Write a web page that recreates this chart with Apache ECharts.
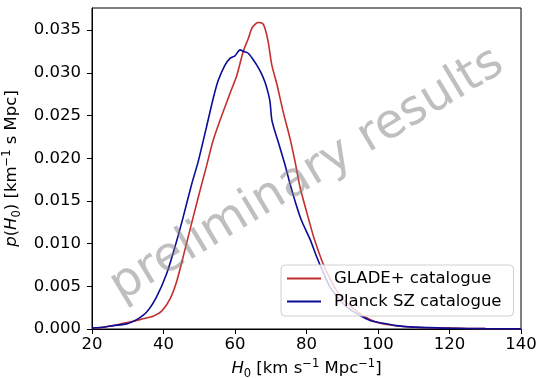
<!DOCTYPE html>
<html>
<head>
<meta charset="utf-8">
<script src="https://cdn.jsdelivr.net/npm/echarts@6/dist/echarts.min.js"></script>
<style>
  html, body { margin: 0; padding: 0; background: #fff; }
  #chart { width: 536px; height: 378px; }
</style>
</head>
<body>
<div id="chart"></div>
<script>
// H0 posterior, GLADE+ catalogue
const gladeH0 = [20, 23, 26, 29, 31.6, 34.3, 37.1, 39.5, 41.8, 43.7, 46, 48.3, 50.7, 52.1, 53.9, 56.3, 58.6, 60.5,
  62.3, 63.7, 64.7, 65.9, 66.5, 67.7, 68.4, 69.3, 70.3, 71.7, 73.5, 75.4, 76.8, 78.2, 80.7, 82.2, 84.3, 86.2,
  88.4, 90.5, 93.1, 96, 99.6, 103, 107, 112, 120, 130, 140]
const gladeP = [0.00005, 0.0002, 0.0004, 0.0007, 0.0009, 0.0012, 0.0015, 0.0021, 0.0035, 0.0056, 0.0093, 0.0131,
  0.0170, 0.0192, 0.0221, 0.0250, 0.0276, 0.0297, 0.0325, 0.0340, 0.0352, 0.0358, 0.0359, 0.0358, 0.0352, 0.0336,
  0.0309, 0.0287, 0.0254, 0.0223, 0.0196, 0.0166, 0.0127, 0.0105, 0.0080, 0.0062, 0.0045, 0.0033, 0.0024, 0.0015,
  0.0008, 0.0005, 0.0003, 0.00018, 0.0001, 0.00004, 0.00002]

// H0 posterior, Planck SZ catalogue
const planckH0 = [20, 23, 26, 29.7, 32.5, 35.3, 38.1, 40.9, 43.2, 45.5, 47.9, 49.7, 52.1, 53.9, 55.3, 57.2, 58.6,
  60, 61.4, 62.5, 63.7, 65, 66.1, 67.3, 68.4, 69.3, 69.8, 70.3, 71.2, 72.1, 74, 75.4, 77, 78.6, 81, 82.9, 84.7,
  86.6, 88.9, 91.2, 94.5, 97.8, 101, 105.2, 110, 120, 130, 140]
const planckP = [0.0001, 0.0002, 0.0004, 0.0006, 0.0011, 0.0020, 0.0038, 0.0065, 0.0096, 0.0131, 0.0170, 0.0196,
  0.0238, 0.0270, 0.0291, 0.0309, 0.0317, 0.0320, 0.0327, 0.0325, 0.0323, 0.0316, 0.0309, 0.0300, 0.0289, 0.0276,
  0.0266, 0.0245, 0.0231, 0.0219, 0.0192, 0.0170, 0.0147, 0.0127, 0.0105, 0.0084, 0.0066, 0.0049, 0.0036, 0.0026,
  0.0017, 0.0010, 0.0007, 0.0004, 0.00022, 0.0001, 0.00004, 0.00002]

const xTicks = [20, 40, 60, 80, 100, 120, 140]
const yTicks = [0, 0.005, 0.01, 0.015, 0.02, 0.025, 0.03, 0.035]

const zip = (xs, ys) => xs.map((x, i) => [x, ys[i]])

const font = 'DejaVu Sans'
const fs = 16.5
const red = '#c42f2f'
const blue = '#0c0c96'

const nameRich = {
  i: { fontFamily: font, fontSize: fs, fontStyle: 'italic', color: '#000' },
  sub: { fontFamily: font, fontSize: 11.5, color: '#000', verticalAlign: 'bottom', lineHeight: 14 },
  sup: { fontFamily: font, fontSize: 11.5, color: '#000', verticalAlign: 'top', lineHeight: 14 },
}

const chart = echarts.init(document.getElementById('chart'))
chart.setOption({
  animation: false,
  backgroundColor: '#fff',
  textStyle: { fontFamily: font },
  grid: {
    left: 92, right: 15, top: 8, bottom: 49,
    outerBoundsMode: 'none',
    containLabel: false,
    show: true, borderColor: '#000', borderWidth: 1, backgroundColor: 'transparent',
  },
  legend: {
    left: 281, top: 265,
    orient: 'vertical',
    itemWidth: 34, itemHeight: 2, itemGap: 6,
    icon: 'rect',
    padding: [5, 12, 6, 6],
    backgroundColor: 'rgba(255,255,255,0.8)',
    borderColor: '#d0d0d0', borderWidth: 1, borderRadius: 4,
    textStyle: { fontFamily: font, fontSize: fs, color: '#000', padding: [0, 0, 0, 8] },
    data: ['GLADE+ catalogue', 'Planck SZ catalogue'],
  },
  xAxis: {
    type: 'value', min: 20, max: 140, interval: 20,
    name: '{i|H}{sub|0} [km s{sup|−1} Mpc{sup|−1}]',
    nameLocation: 'middle', nameGap: 29,
    nameTextStyle: { fontFamily: font, fontSize: fs, color: '#000', lineHeight: 22, rich: nameRich },
    axisLine: { lineStyle: { color: '#000', width: 1 } },
    axisTick: { length: 5, lineStyle: { color: '#000' }, customValues: xTicks },
    axisLabel: { fontSize: fs, color: '#000', margin: 7, customValues: xTicks },
    splitLine: { show: false },
  },
  yAxis: {
    type: 'value', min: 0, max: 0.0376,
    name: '{i|p}({i|H}{sub|0}) [km{sup|−1} s Mpc]',
    nameLocation: 'middle', nameGap: 63,
    nameTextStyle: { fontFamily: font, fontSize: fs, color: '#000', lineHeight: 22, rich: nameRich },
    axisLine: { show: true, lineStyle: { color: '#000', width: 1 } },
    axisTick: { show: true, length: 5, lineStyle: { color: '#000' }, customValues: yTicks },
    axisLabel: {
      fontSize: fs, color: '#000', margin: 11, customValues: yTicks,
      formatter: (v) => v.toFixed(3),
    },
    splitLine: { show: false },
  },
  graphic: [
    {
      type: 'text',
      x: 307, y: 175,
      rotation: 31 * Math.PI / 180,
      z: 100,
      style: {
        text: 'preliminary results',
        font: '48px "DejaVu Sans"',
        fill: 'rgba(128,128,128,0.5)',
        align: 'center',
        verticalAlign: 'middle',
      },
    },
  ],
  series: [
    {
      name: 'GLADE+ catalogue',
      type: 'line',
      data: zip(gladeH0, gladeP),
      showSymbol: false,
      smooth: 0.25,
      color: red,
      lineStyle: { width: 1.6, color: red },
    },
    {
      name: 'Planck SZ catalogue',
      type: 'line',
      data: zip(planckH0, planckP),
      showSymbol: false,
      smooth: 0.25,
      color: blue,
      lineStyle: { width: 1.6, color: blue },
    },
  ],
})
</script>
</body>
</html>
